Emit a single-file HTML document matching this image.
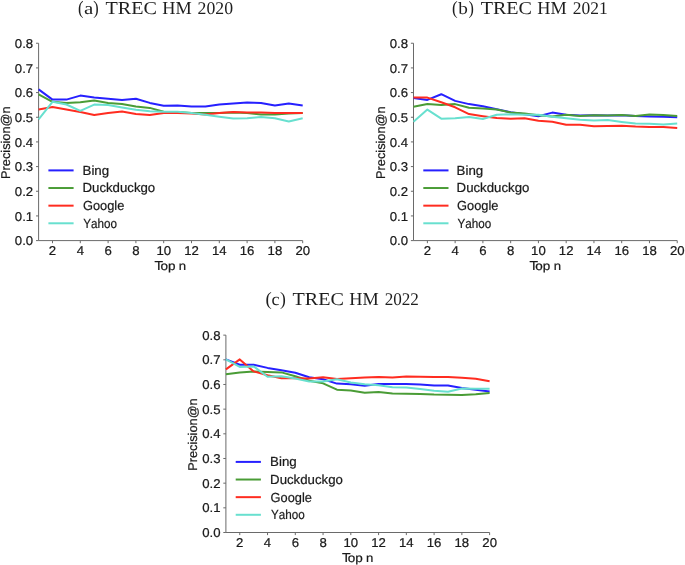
<!DOCTYPE html>
<html><head><meta charset="utf-8"><style>
html,body{margin:0;padding:0;background:#fff;}
body{width:685px;height:565px;overflow:hidden;}
svg{display:block;}
.s{stroke:#1a1a1a;stroke-width:0.22px;}
.t{}
</style></head><body>
<svg width="685" height="565" viewBox="0 0 685 565">
<rect width="685" height="565" fill="#fff"/>
<g style="opacity:0.999;font-kerning:none;text-rendering:geometricPrecision">
<text transform="translate(77.92,13.86) scale(0.8723,1)" font-size="18.969" font-family="Liberation Serif, serif" class="t" fill="#1e1e1e">(</text>
<text transform="translate(83.96,13.83) scale(1.2334,1)" font-size="17.035" font-family="Liberation Serif, serif" class="t" fill="#1e1e1e">a</text>
<text transform="translate(93.37,13.86) scale(0.8621,1)" font-size="18.969" font-family="Liberation Serif, serif" class="t" fill="#1e1e1e">)</text>
<text transform="translate(105.54,13.84) scale(1.1051,1)" font-size="18.189" font-family="Liberation Serif, serif" class="t" fill="#1e1e1e">TREC</text>
<text transform="translate(162.27,13.84) scale(1.0052,1)" font-size="18.189" font-family="Liberation Serif, serif" class="t" fill="#1e1e1e">HM</text>
<text transform="translate(197.62,13.92) scale(0.9886,1)" font-size="17.931" font-family="Liberation Serif, serif" class="t" fill="#1e1e1e">2020</text>
<text transform="translate(451.92,13.80) scale(0.8992,1)" font-size="18.793" font-family="Liberation Serif, serif" class="t" fill="#1e1e1e">(</text>
<text transform="translate(458.20,13.85) scale(1.1187,1)" font-size="17.223" font-family="Liberation Serif, serif" class="t" fill="#1e1e1e">b</text>
<text transform="translate(468.48,13.80) scale(0.8598,1)" font-size="18.793" font-family="Liberation Serif, serif" class="t" fill="#1e1e1e">)</text>
<text transform="translate(480.64,13.84) scale(1.1051,1)" font-size="18.189" font-family="Liberation Serif, serif" class="t" fill="#1e1e1e">TREC</text>
<text transform="translate(537.37,13.84) scale(1.0052,1)" font-size="18.189" font-family="Liberation Serif, serif" class="t" fill="#1e1e1e">HM</text>
<text transform="translate(572.73,13.92) scale(0.9736,1)" font-size="17.931" font-family="Liberation Serif, serif" class="t" fill="#1e1e1e">2021</text>
<text transform="translate(265.38,304.99) scale(0.9910,1)" font-size="18.859" font-family="Liberation Serif, serif" class="t" fill="#1e1e1e">(</text>
<text transform="translate(271.41,305.33) scale(1.0260,1)" font-size="17.673" font-family="Liberation Serif, serif" class="t" fill="#1e1e1e">c</text>
<text transform="translate(279.94,304.99) scale(0.9291,1)" font-size="18.859" font-family="Liberation Serif, serif" class="t" fill="#1e1e1e">)</text>
<text transform="translate(292.54,305.34) scale(1.1051,1)" font-size="18.189" font-family="Liberation Serif, serif" class="t" fill="#1e1e1e">TREC</text>
<text transform="translate(349.27,305.34) scale(1.0052,1)" font-size="18.189" font-family="Liberation Serif, serif" class="t" fill="#1e1e1e">HM</text>
<text transform="translate(384.65,305.42) scale(0.9564,1)" font-size="17.931" font-family="Liberation Serif, serif" class="t" fill="#1e1e1e">2022</text>
<path d="M38.60,43.24V240.60H302.70" fill="none" stroke="#6a6a6a" stroke-width="1.0"/>
<path d="M36.00,240.60H38.60" stroke="#6a6a6a" stroke-width="1.0"/>
<text transform="translate(33.20,245.20) scale(1.0300,1)" text-anchor="end" font-size="12.8" font-family="Liberation Sans, sans-serif" class="s" fill="#1a1a1a">0.0</text>
<path d="M36.00,215.93H38.60" stroke="#6a6a6a" stroke-width="1.0"/>
<text transform="translate(33.20,220.53) scale(1.0300,1)" text-anchor="end" font-size="12.8" font-family="Liberation Sans, sans-serif" class="s" fill="#1a1a1a">0.1</text>
<path d="M36.00,191.26H38.60" stroke="#6a6a6a" stroke-width="1.0"/>
<text transform="translate(33.20,195.86) scale(1.0300,1)" text-anchor="end" font-size="12.8" font-family="Liberation Sans, sans-serif" class="s" fill="#1a1a1a">0.2</text>
<path d="M36.00,166.59H38.60" stroke="#6a6a6a" stroke-width="1.0"/>
<text transform="translate(33.20,171.19) scale(1.0300,1)" text-anchor="end" font-size="12.8" font-family="Liberation Sans, sans-serif" class="s" fill="#1a1a1a">0.3</text>
<path d="M36.00,141.92H38.60" stroke="#6a6a6a" stroke-width="1.0"/>
<text transform="translate(33.20,146.52) scale(1.0300,1)" text-anchor="end" font-size="12.8" font-family="Liberation Sans, sans-serif" class="s" fill="#1a1a1a">0.4</text>
<path d="M36.00,117.25H38.60" stroke="#6a6a6a" stroke-width="1.0"/>
<text transform="translate(33.20,121.85) scale(1.0300,1)" text-anchor="end" font-size="12.8" font-family="Liberation Sans, sans-serif" class="s" fill="#1a1a1a">0.5</text>
<path d="M36.00,92.58H38.60" stroke="#6a6a6a" stroke-width="1.0"/>
<text transform="translate(33.20,97.18) scale(1.0300,1)" text-anchor="end" font-size="12.8" font-family="Liberation Sans, sans-serif" class="s" fill="#1a1a1a">0.6</text>
<path d="M36.00,67.91H38.60" stroke="#6a6a6a" stroke-width="1.0"/>
<text transform="translate(33.20,72.51) scale(1.0300,1)" text-anchor="end" font-size="12.8" font-family="Liberation Sans, sans-serif" class="s" fill="#1a1a1a">0.7</text>
<path d="M36.00,43.24H38.60" stroke="#6a6a6a" stroke-width="1.0"/>
<text transform="translate(33.20,47.84) scale(1.0300,1)" text-anchor="end" font-size="12.8" font-family="Liberation Sans, sans-serif" class="s" fill="#1a1a1a">0.8</text>
<path d="M52.50,240.60V243.20" stroke="#6a6a6a" stroke-width="1.0"/>
<text transform="translate(52.50,255.00) scale(1.0300,1)" text-anchor="middle" font-size="12.8" font-family="Liberation Sans, sans-serif" class="s" fill="#1a1a1a">2</text>
<path d="M80.30,240.60V243.20" stroke="#6a6a6a" stroke-width="1.0"/>
<text transform="translate(80.30,255.00) scale(1.0300,1)" text-anchor="middle" font-size="12.8" font-family="Liberation Sans, sans-serif" class="s" fill="#1a1a1a">4</text>
<path d="M108.10,240.60V243.20" stroke="#6a6a6a" stroke-width="1.0"/>
<text transform="translate(108.10,255.00) scale(1.0300,1)" text-anchor="middle" font-size="12.8" font-family="Liberation Sans, sans-serif" class="s" fill="#1a1a1a">6</text>
<path d="M135.90,240.60V243.20" stroke="#6a6a6a" stroke-width="1.0"/>
<text transform="translate(135.90,255.00) scale(1.0300,1)" text-anchor="middle" font-size="12.8" font-family="Liberation Sans, sans-serif" class="s" fill="#1a1a1a">8</text>
<path d="M163.70,240.60V243.20" stroke="#6a6a6a" stroke-width="1.0"/>
<text transform="translate(163.70,255.00) scale(1.0300,1)" text-anchor="middle" font-size="12.8" font-family="Liberation Sans, sans-serif" class="s" fill="#1a1a1a">10</text>
<path d="M191.50,240.60V243.20" stroke="#6a6a6a" stroke-width="1.0"/>
<text transform="translate(191.50,255.00) scale(1.0300,1)" text-anchor="middle" font-size="12.8" font-family="Liberation Sans, sans-serif" class="s" fill="#1a1a1a">12</text>
<path d="M219.30,240.60V243.20" stroke="#6a6a6a" stroke-width="1.0"/>
<text transform="translate(219.30,255.00) scale(1.0300,1)" text-anchor="middle" font-size="12.8" font-family="Liberation Sans, sans-serif" class="s" fill="#1a1a1a">14</text>
<path d="M247.10,240.60V243.20" stroke="#6a6a6a" stroke-width="1.0"/>
<text transform="translate(247.10,255.00) scale(1.0300,1)" text-anchor="middle" font-size="12.8" font-family="Liberation Sans, sans-serif" class="s" fill="#1a1a1a">16</text>
<path d="M274.90,240.60V243.20" stroke="#6a6a6a" stroke-width="1.0"/>
<text transform="translate(274.90,255.00) scale(1.0300,1)" text-anchor="middle" font-size="12.8" font-family="Liberation Sans, sans-serif" class="s" fill="#1a1a1a">18</text>
<path d="M302.70,240.60V243.20" stroke="#6a6a6a" stroke-width="1.0"/>
<text transform="translate(302.70,255.00) scale(1.0300,1)" text-anchor="middle" font-size="12.8" font-family="Liberation Sans, sans-serif" class="s" fill="#1a1a1a">20</text>
<text transform="translate(154.59,269.70) scale(1.0793,1)" font-size="12.945" font-family="Liberation Sans, sans-serif" class="s" fill="#1a1a1a">T</text>
<text transform="translate(160.43,269.70) scale(1.1194,1)" font-size="12.075" font-family="Liberation Sans, sans-serif" class="s" fill="#1a1a1a">op</text>
<text transform="translate(178.82,269.70) scale(1.0917,1)" font-size="12.075" font-family="Liberation Sans, sans-serif" class="s" fill="#1a1a1a">n</text>
<text transform="translate(9.90,178.97) rotate(-90) scale(1.0104,1)" font-size="12.655" font-family="Liberation Sans, sans-serif" class="s" fill="#1a1a1a">Precision@n</text>
<polyline points="38.60,89.40 52.50,99.60 66.40,99.60 80.30,95.60 94.20,97.40 108.10,98.70 122.00,100.10 135.90,98.70 149.80,102.90 163.70,105.70 177.60,105.40 191.50,106.60 205.40,106.60 219.30,104.60 233.20,103.40 247.10,102.40 261.00,103.00 274.90,105.60 288.80,103.60 302.70,105.40" fill="none" stroke="#2620ff" stroke-width="2.0" stroke-linejoin="round" stroke-linecap="butt"/>
<polyline points="38.60,94.40 52.50,101.80 66.40,103.00 80.30,102.20 94.20,100.60 108.10,102.90 122.00,103.90 135.90,106.40 149.80,107.90 163.70,111.80 177.60,112.00 191.50,113.00 205.40,113.00 219.30,113.00 233.20,112.60 247.10,113.00 261.00,114.60 274.90,114.60 288.80,113.40 302.70,113.00" fill="none" stroke="#4a9c36" stroke-width="2.0" stroke-linejoin="round" stroke-linecap="butt"/>
<polyline points="38.60,109.50 52.50,107.00 66.40,109.40 80.30,112.00 94.20,115.00 108.10,113.00 122.00,111.60 135.90,114.00 149.80,115.00 163.70,113.00 177.60,113.00 191.50,113.60 205.40,114.60 219.30,113.00 233.20,112.00 247.10,112.40 261.00,112.40 274.90,113.00 288.80,113.00 302.70,113.00" fill="none" stroke="#ff2c20" stroke-width="2.0" stroke-linejoin="round" stroke-linecap="butt"/>
<polyline points="38.60,119.30 52.50,101.80 66.40,104.50 80.30,110.80 94.20,104.60 108.10,104.90 122.00,107.40 135.90,109.80 149.80,111.30 163.70,111.80 177.60,111.70 191.50,113.10 205.40,114.80 219.30,116.80 233.20,118.60 247.10,118.30 261.00,117.10 274.90,118.30 288.80,121.40 302.70,118.30" fill="none" stroke="#68e0cf" stroke-width="2.0" stroke-linejoin="round" stroke-linecap="butt"/>
<path d="M48.40,170.40H73.60" stroke="#2620ff" stroke-width="2.0"/>
<text transform="translate(82.51,174.80) scale(1.0115,1)" font-size="13.164" font-family="Liberation Sans, sans-serif" class="s" fill="#1a1a1a">Bing</text>
<path d="M48.40,188.03H73.60" stroke="#4a9c36" stroke-width="2.0"/>
<text transform="translate(82.52,192.43) scale(1.0042,1)" font-size="13.164" font-family="Liberation Sans, sans-serif" class="s" fill="#1a1a1a">Duckduckgo</text>
<path d="M48.40,205.66H73.60" stroke="#ff2c20" stroke-width="2.0"/>
<text transform="translate(82.96,210.06) scale(0.9733,1)" font-size="13.164" font-family="Liberation Sans, sans-serif" class="s" fill="#1a1a1a">Google</text>
<path d="M48.40,223.29H73.60" stroke="#68e0cf" stroke-width="2.0"/>
<text transform="translate(83.34,227.69) scale(0.8866,1)" font-size="13.164" font-family="Liberation Sans, sans-serif" class="s" fill="#1a1a1a">Yahoo</text>
<path d="M413.50,43.24V240.60H677.22" fill="none" stroke="#6a6a6a" stroke-width="1.0"/>
<path d="M410.90,240.60H413.50" stroke="#6a6a6a" stroke-width="1.0"/>
<text transform="translate(408.10,245.20) scale(1.0300,1)" text-anchor="end" font-size="12.8" font-family="Liberation Sans, sans-serif" class="s" fill="#1a1a1a">0.0</text>
<path d="M410.90,215.93H413.50" stroke="#6a6a6a" stroke-width="1.0"/>
<text transform="translate(408.10,220.53) scale(1.0300,1)" text-anchor="end" font-size="12.8" font-family="Liberation Sans, sans-serif" class="s" fill="#1a1a1a">0.1</text>
<path d="M410.90,191.26H413.50" stroke="#6a6a6a" stroke-width="1.0"/>
<text transform="translate(408.10,195.86) scale(1.0300,1)" text-anchor="end" font-size="12.8" font-family="Liberation Sans, sans-serif" class="s" fill="#1a1a1a">0.2</text>
<path d="M410.90,166.59H413.50" stroke="#6a6a6a" stroke-width="1.0"/>
<text transform="translate(408.10,171.19) scale(1.0300,1)" text-anchor="end" font-size="12.8" font-family="Liberation Sans, sans-serif" class="s" fill="#1a1a1a">0.3</text>
<path d="M410.90,141.92H413.50" stroke="#6a6a6a" stroke-width="1.0"/>
<text transform="translate(408.10,146.52) scale(1.0300,1)" text-anchor="end" font-size="12.8" font-family="Liberation Sans, sans-serif" class="s" fill="#1a1a1a">0.4</text>
<path d="M410.90,117.25H413.50" stroke="#6a6a6a" stroke-width="1.0"/>
<text transform="translate(408.10,121.85) scale(1.0300,1)" text-anchor="end" font-size="12.8" font-family="Liberation Sans, sans-serif" class="s" fill="#1a1a1a">0.5</text>
<path d="M410.90,92.58H413.50" stroke="#6a6a6a" stroke-width="1.0"/>
<text transform="translate(408.10,97.18) scale(1.0300,1)" text-anchor="end" font-size="12.8" font-family="Liberation Sans, sans-serif" class="s" fill="#1a1a1a">0.6</text>
<path d="M410.90,67.91H413.50" stroke="#6a6a6a" stroke-width="1.0"/>
<text transform="translate(408.10,72.51) scale(1.0300,1)" text-anchor="end" font-size="12.8" font-family="Liberation Sans, sans-serif" class="s" fill="#1a1a1a">0.7</text>
<path d="M410.90,43.24H413.50" stroke="#6a6a6a" stroke-width="1.0"/>
<text transform="translate(408.10,47.84) scale(1.0300,1)" text-anchor="end" font-size="12.8" font-family="Liberation Sans, sans-serif" class="s" fill="#1a1a1a">0.8</text>
<path d="M427.38,240.60V243.20" stroke="#6a6a6a" stroke-width="1.0"/>
<text transform="translate(427.38,255.00) scale(1.0300,1)" text-anchor="middle" font-size="12.8" font-family="Liberation Sans, sans-serif" class="s" fill="#1a1a1a">2</text>
<path d="M455.14,240.60V243.20" stroke="#6a6a6a" stroke-width="1.0"/>
<text transform="translate(455.14,255.00) scale(1.0300,1)" text-anchor="middle" font-size="12.8" font-family="Liberation Sans, sans-serif" class="s" fill="#1a1a1a">4</text>
<path d="M482.90,240.60V243.20" stroke="#6a6a6a" stroke-width="1.0"/>
<text transform="translate(482.90,255.00) scale(1.0300,1)" text-anchor="middle" font-size="12.8" font-family="Liberation Sans, sans-serif" class="s" fill="#1a1a1a">6</text>
<path d="M510.66,240.60V243.20" stroke="#6a6a6a" stroke-width="1.0"/>
<text transform="translate(510.66,255.00) scale(1.0300,1)" text-anchor="middle" font-size="12.8" font-family="Liberation Sans, sans-serif" class="s" fill="#1a1a1a">8</text>
<path d="M538.42,240.60V243.20" stroke="#6a6a6a" stroke-width="1.0"/>
<text transform="translate(538.42,255.00) scale(1.0300,1)" text-anchor="middle" font-size="12.8" font-family="Liberation Sans, sans-serif" class="s" fill="#1a1a1a">10</text>
<path d="M566.18,240.60V243.20" stroke="#6a6a6a" stroke-width="1.0"/>
<text transform="translate(566.18,255.00) scale(1.0300,1)" text-anchor="middle" font-size="12.8" font-family="Liberation Sans, sans-serif" class="s" fill="#1a1a1a">12</text>
<path d="M593.94,240.60V243.20" stroke="#6a6a6a" stroke-width="1.0"/>
<text transform="translate(593.94,255.00) scale(1.0300,1)" text-anchor="middle" font-size="12.8" font-family="Liberation Sans, sans-serif" class="s" fill="#1a1a1a">14</text>
<path d="M621.70,240.60V243.20" stroke="#6a6a6a" stroke-width="1.0"/>
<text transform="translate(621.70,255.00) scale(1.0300,1)" text-anchor="middle" font-size="12.8" font-family="Liberation Sans, sans-serif" class="s" fill="#1a1a1a">16</text>
<path d="M649.46,240.60V243.20" stroke="#6a6a6a" stroke-width="1.0"/>
<text transform="translate(649.46,255.00) scale(1.0300,1)" text-anchor="middle" font-size="12.8" font-family="Liberation Sans, sans-serif" class="s" fill="#1a1a1a">18</text>
<path d="M677.22,240.60V243.20" stroke="#6a6a6a" stroke-width="1.0"/>
<text transform="translate(677.22,255.00) scale(1.0300,1)" text-anchor="middle" font-size="12.8" font-family="Liberation Sans, sans-serif" class="s" fill="#1a1a1a">20</text>
<text transform="translate(529.49,269.70) scale(1.0793,1)" font-size="12.945" font-family="Liberation Sans, sans-serif" class="s" fill="#1a1a1a">T</text>
<text transform="translate(535.33,269.70) scale(1.1194,1)" font-size="12.075" font-family="Liberation Sans, sans-serif" class="s" fill="#1a1a1a">op</text>
<text transform="translate(553.72,269.70) scale(1.0917,1)" font-size="12.075" font-family="Liberation Sans, sans-serif" class="s" fill="#1a1a1a">n</text>
<text transform="translate(384.80,178.97) rotate(-90) scale(1.0104,1)" font-size="12.655" font-family="Liberation Sans, sans-serif" class="s" fill="#1a1a1a">Precision@n</text>
<polyline points="413.50,97.90 427.38,99.90 441.26,94.20 455.14,100.90 469.02,104.10 482.90,106.20 496.78,109.30 510.66,112.30 524.54,114.30 538.42,116.20 552.30,112.60 566.18,114.80 580.06,115.60 593.94,115.30 607.82,115.60 621.70,115.30 635.58,116.00 649.46,116.40 663.34,116.80 677.22,117.20" fill="none" stroke="#2620ff" stroke-width="2.0" stroke-linejoin="round" stroke-linecap="butt"/>
<polyline points="413.50,106.80 427.38,104.10 441.26,105.00 455.14,104.10 469.02,107.80 482.90,108.50 496.78,109.50 510.66,112.60 524.54,113.60 538.42,115.20 552.30,116.50 566.18,114.80 580.06,116.00 593.94,115.30 607.82,115.60 621.70,115.10 635.58,116.00 649.46,114.50 663.34,115.00 677.22,116.00" fill="none" stroke="#4a9c36" stroke-width="2.0" stroke-linejoin="round" stroke-linecap="butt"/>
<polyline points="413.50,97.60 427.38,97.60 441.26,102.30 455.14,107.30 469.02,114.10 482.90,116.20 496.78,118.00 510.66,118.70 524.54,118.20 538.42,120.70 552.30,121.70 566.18,124.70 580.06,124.70 593.94,126.20 607.82,125.90 621.70,125.70 635.58,126.50 649.46,126.90 663.34,126.90 677.22,128.10" fill="none" stroke="#ff2c20" stroke-width="2.0" stroke-linejoin="round" stroke-linecap="butt"/>
<polyline points="413.50,121.70 427.38,109.60 441.26,118.70 455.14,118.20 469.02,117.00 482.90,119.00 496.78,114.80 510.66,114.30 524.54,114.80 538.42,114.80 552.30,116.70 566.18,118.20 580.06,119.70 593.94,120.40 607.82,120.10 621.70,121.90 635.58,123.40 649.46,123.70 663.34,124.40 677.22,123.40" fill="none" stroke="#68e0cf" stroke-width="2.0" stroke-linejoin="round" stroke-linecap="butt"/>
<path d="M423.30,170.40H448.50" stroke="#2620ff" stroke-width="2.0"/>
<text transform="translate(456.61,174.80) scale(1.0115,1)" font-size="13.164" font-family="Liberation Sans, sans-serif" class="s" fill="#1a1a1a">Bing</text>
<path d="M423.30,188.03H448.50" stroke="#4a9c36" stroke-width="2.0"/>
<text transform="translate(456.62,192.43) scale(1.0042,1)" font-size="13.164" font-family="Liberation Sans, sans-serif" class="s" fill="#1a1a1a">Duckduckgo</text>
<path d="M423.30,205.66H448.50" stroke="#ff2c20" stroke-width="2.0"/>
<text transform="translate(457.06,210.06) scale(0.9733,1)" font-size="13.164" font-family="Liberation Sans, sans-serif" class="s" fill="#1a1a1a">Google</text>
<path d="M423.30,223.29H448.50" stroke="#68e0cf" stroke-width="2.0"/>
<text transform="translate(457.44,227.69) scale(0.8866,1)" font-size="13.164" font-family="Liberation Sans, sans-serif" class="s" fill="#1a1a1a">Yahoo</text>
<path d="M225.90,335.14V532.50H489.62" fill="none" stroke="#6a6a6a" stroke-width="1.0"/>
<path d="M223.30,532.50H225.90" stroke="#6a6a6a" stroke-width="1.0"/>
<text transform="translate(220.50,537.10) scale(1.0300,1)" text-anchor="end" font-size="12.8" font-family="Liberation Sans, sans-serif" class="s" fill="#1a1a1a">0.0</text>
<path d="M223.30,507.83H225.90" stroke="#6a6a6a" stroke-width="1.0"/>
<text transform="translate(220.50,512.43) scale(1.0300,1)" text-anchor="end" font-size="12.8" font-family="Liberation Sans, sans-serif" class="s" fill="#1a1a1a">0.1</text>
<path d="M223.30,483.16H225.90" stroke="#6a6a6a" stroke-width="1.0"/>
<text transform="translate(220.50,487.76) scale(1.0300,1)" text-anchor="end" font-size="12.8" font-family="Liberation Sans, sans-serif" class="s" fill="#1a1a1a">0.2</text>
<path d="M223.30,458.49H225.90" stroke="#6a6a6a" stroke-width="1.0"/>
<text transform="translate(220.50,463.09) scale(1.0300,1)" text-anchor="end" font-size="12.8" font-family="Liberation Sans, sans-serif" class="s" fill="#1a1a1a">0.3</text>
<path d="M223.30,433.82H225.90" stroke="#6a6a6a" stroke-width="1.0"/>
<text transform="translate(220.50,438.42) scale(1.0300,1)" text-anchor="end" font-size="12.8" font-family="Liberation Sans, sans-serif" class="s" fill="#1a1a1a">0.4</text>
<path d="M223.30,409.15H225.90" stroke="#6a6a6a" stroke-width="1.0"/>
<text transform="translate(220.50,413.75) scale(1.0300,1)" text-anchor="end" font-size="12.8" font-family="Liberation Sans, sans-serif" class="s" fill="#1a1a1a">0.5</text>
<path d="M223.30,384.48H225.90" stroke="#6a6a6a" stroke-width="1.0"/>
<text transform="translate(220.50,389.08) scale(1.0300,1)" text-anchor="end" font-size="12.8" font-family="Liberation Sans, sans-serif" class="s" fill="#1a1a1a">0.6</text>
<path d="M223.30,359.81H225.90" stroke="#6a6a6a" stroke-width="1.0"/>
<text transform="translate(220.50,364.41) scale(1.0300,1)" text-anchor="end" font-size="12.8" font-family="Liberation Sans, sans-serif" class="s" fill="#1a1a1a">0.7</text>
<path d="M223.30,335.14H225.90" stroke="#6a6a6a" stroke-width="1.0"/>
<text transform="translate(220.50,339.74) scale(1.0300,1)" text-anchor="end" font-size="12.8" font-family="Liberation Sans, sans-serif" class="s" fill="#1a1a1a">0.8</text>
<path d="M239.78,532.50V535.10" stroke="#6a6a6a" stroke-width="1.0"/>
<text transform="translate(239.78,546.90) scale(1.0300,1)" text-anchor="middle" font-size="12.8" font-family="Liberation Sans, sans-serif" class="s" fill="#1a1a1a">2</text>
<path d="M267.54,532.50V535.10" stroke="#6a6a6a" stroke-width="1.0"/>
<text transform="translate(267.54,546.90) scale(1.0300,1)" text-anchor="middle" font-size="12.8" font-family="Liberation Sans, sans-serif" class="s" fill="#1a1a1a">4</text>
<path d="M295.30,532.50V535.10" stroke="#6a6a6a" stroke-width="1.0"/>
<text transform="translate(295.30,546.90) scale(1.0300,1)" text-anchor="middle" font-size="12.8" font-family="Liberation Sans, sans-serif" class="s" fill="#1a1a1a">6</text>
<path d="M323.06,532.50V535.10" stroke="#6a6a6a" stroke-width="1.0"/>
<text transform="translate(323.06,546.90) scale(1.0300,1)" text-anchor="middle" font-size="12.8" font-family="Liberation Sans, sans-serif" class="s" fill="#1a1a1a">8</text>
<path d="M350.82,532.50V535.10" stroke="#6a6a6a" stroke-width="1.0"/>
<text transform="translate(350.82,546.90) scale(1.0300,1)" text-anchor="middle" font-size="12.8" font-family="Liberation Sans, sans-serif" class="s" fill="#1a1a1a">10</text>
<path d="M378.58,532.50V535.10" stroke="#6a6a6a" stroke-width="1.0"/>
<text transform="translate(378.58,546.90) scale(1.0300,1)" text-anchor="middle" font-size="12.8" font-family="Liberation Sans, sans-serif" class="s" fill="#1a1a1a">12</text>
<path d="M406.34,532.50V535.10" stroke="#6a6a6a" stroke-width="1.0"/>
<text transform="translate(406.34,546.90) scale(1.0300,1)" text-anchor="middle" font-size="12.8" font-family="Liberation Sans, sans-serif" class="s" fill="#1a1a1a">14</text>
<path d="M434.10,532.50V535.10" stroke="#6a6a6a" stroke-width="1.0"/>
<text transform="translate(434.10,546.90) scale(1.0300,1)" text-anchor="middle" font-size="12.8" font-family="Liberation Sans, sans-serif" class="s" fill="#1a1a1a">16</text>
<path d="M461.86,532.50V535.10" stroke="#6a6a6a" stroke-width="1.0"/>
<text transform="translate(461.86,546.90) scale(1.0300,1)" text-anchor="middle" font-size="12.8" font-family="Liberation Sans, sans-serif" class="s" fill="#1a1a1a">18</text>
<path d="M489.62,532.50V535.10" stroke="#6a6a6a" stroke-width="1.0"/>
<text transform="translate(489.62,546.90) scale(1.0300,1)" text-anchor="middle" font-size="12.8" font-family="Liberation Sans, sans-serif" class="s" fill="#1a1a1a">20</text>
<text transform="translate(341.89,561.60) scale(1.0793,1)" font-size="12.945" font-family="Liberation Sans, sans-serif" class="s" fill="#1a1a1a">T</text>
<text transform="translate(347.73,561.60) scale(1.1194,1)" font-size="12.075" font-family="Liberation Sans, sans-serif" class="s" fill="#1a1a1a">op</text>
<text transform="translate(366.12,561.60) scale(1.0917,1)" font-size="12.075" font-family="Liberation Sans, sans-serif" class="s" fill="#1a1a1a">n</text>
<text transform="translate(197.20,470.87) rotate(-90) scale(1.0104,1)" font-size="12.655" font-family="Liberation Sans, sans-serif" class="s" fill="#1a1a1a">Precision@n</text>
<polyline points="225.90,359.40 239.78,364.70 253.66,364.70 267.54,367.90 281.42,370.20 295.30,372.70 309.18,377.30 323.06,379.30 336.94,383.60 350.82,384.30 364.70,385.80 378.58,384.00 392.46,384.00 406.34,384.00 420.22,384.50 434.10,385.50 447.98,385.50 461.86,388.00 475.74,389.80 489.62,391.50" fill="none" stroke="#2620ff" stroke-width="2.0" stroke-linejoin="round" stroke-linecap="butt"/>
<polyline points="225.90,374.30 239.78,372.40 253.66,371.40 267.54,371.90 281.42,372.40 295.30,376.30 309.18,380.80 323.06,383.30 336.94,389.70 350.82,390.60 364.70,392.70 378.58,392.00 392.46,393.50 406.34,393.70 420.22,393.90 434.10,394.60 447.98,394.80 461.86,395.00 475.74,394.20 489.62,393.00" fill="none" stroke="#4a9c36" stroke-width="2.0" stroke-linejoin="round" stroke-linecap="butt"/>
<polyline points="225.90,369.40 239.78,359.40 253.66,371.40 267.54,375.30 281.42,378.30 295.30,378.30 309.18,378.60 323.06,377.30 336.94,379.00 350.82,378.20 364.70,377.60 378.58,377.10 392.46,377.60 406.34,376.40 420.22,376.80 434.10,377.10 447.98,377.10 461.86,377.80 475.74,378.70 489.62,381.20" fill="none" stroke="#ff2c20" stroke-width="2.0" stroke-linejoin="round" stroke-linecap="butt"/>
<polyline points="225.90,359.40 239.78,366.90 253.66,366.40 267.54,376.80 281.42,376.30 295.30,378.60 309.18,381.60 323.06,381.60 336.94,379.30 350.82,382.50 364.70,384.30 378.58,385.30 392.46,387.30 406.34,387.50 420.22,389.00 434.10,390.80 447.98,391.70 461.86,388.60 475.74,388.80 489.62,388.80" fill="none" stroke="#68e0cf" stroke-width="2.0" stroke-linejoin="round" stroke-linecap="butt"/>
<path d="M235.70,461.90H260.90" stroke="#2620ff" stroke-width="2.0"/>
<text transform="translate(270.11,466.30) scale(1.0115,1)" font-size="13.164" font-family="Liberation Sans, sans-serif" class="s" fill="#1a1a1a">Bing</text>
<path d="M235.70,479.53H260.90" stroke="#4a9c36" stroke-width="2.0"/>
<text transform="translate(270.12,483.93) scale(1.0042,1)" font-size="13.164" font-family="Liberation Sans, sans-serif" class="s" fill="#1a1a1a">Duckduckgo</text>
<path d="M235.70,497.16H260.90" stroke="#ff2c20" stroke-width="2.0"/>
<text transform="translate(270.56,501.56) scale(0.9733,1)" font-size="13.164" font-family="Liberation Sans, sans-serif" class="s" fill="#1a1a1a">Google</text>
<path d="M235.70,514.79H260.90" stroke="#68e0cf" stroke-width="2.0"/>
<text transform="translate(270.94,519.19) scale(0.8866,1)" font-size="13.164" font-family="Liberation Sans, sans-serif" class="s" fill="#1a1a1a">Yahoo</text>
</g>
</svg>
</body></html>
